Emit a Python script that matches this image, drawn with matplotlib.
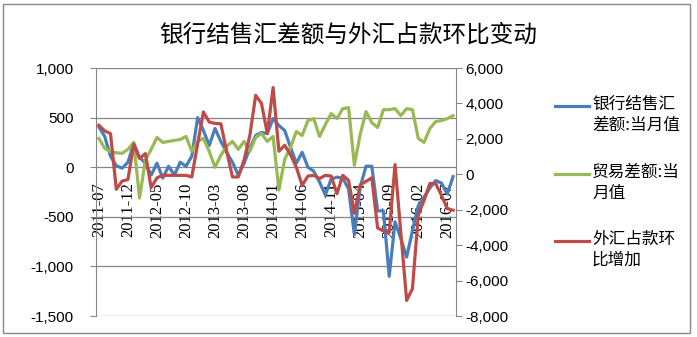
import matplotlib.pyplot as plt
from matplotlib.lines import Line2D
from matplotlib.patches import Rectangle
from matplotlib.ticker import FuncFormatter
import numpy as np
import pandas as pd

plt.rcParams['font.family'] = ['Noto Sans CJK SC', 'DejaVu Sans']
plt.rcParams['axes.unicode_minus'] = False

# monthly, 2011-07 .. 2016-08
months = pd.date_range('2011-07-01', periods=62, freq='MS').strftime('%Y-%m').tolist()

# 银行结售汇差额:当月值 (left axis)
fx_settlement = [405, 310, 110, 15, -10, 50, 240, 100, 40, -80,
                 40, -110, 10, -80, 50, 10, 110, 500, 370, 220,
                 390, 260, 150, 50, -80, 40, 190, 320, 350, 340,
                 490, 420, 370, 200, 40, 150, 0, -40, -150, -280,
                 -120, -100, -110, -220, -680, -200, 10, 10, -440, -440,
                 -1100, -550, -720, -906, -640, -390, -300, -210, -135, -160,
                 -270, -95]

# 贸易差额:当月值 (left axis)
trade_balance = [290, 190, 155, 145, 140, 180, 250, -310, 70, 180,
                 300, 250, 260, 270, 280, 310, 160, 260, 290, 160,
                 0, 120, 210, 260, 180, 260, 160, 300, 340, 260,
                 310, -230, 80, 200, 360, 320, 470, 490, 310, 430,
                 540, 490, 590, 600, 20, 330, 560, 450, 400, 580,
                 580, 590, 520, 590, 580, 290, 250, 390, 460, 470,
                 490, 520]

# 外汇占款环比增加 (right axis)
fx_reserve_change = [2770, 2450, 2300, -850, -380, -300, 1700, 890, 1170, -750,
                     -200, -60, -60, -60, -60, -60, -150, 1700, 3520, 2950,
                     2870, 2850, 1300, -150, -150, 800, 2200, 4460, 4000, 2300,
                     4900, 1300, 1640, 1100, 400, -620, -100, -60, -240, -60,
                     -100, -1090, -60, -340, -2200, -600, -400, -200, -3030, -3200,
                     -3280, 550, -3300, -7120, -6460, -2300, -1470, -520, -530, -1190,
                     -1940, -2030]

labels = ['银行结售汇\n差额:当月值', '贸易差额:当\n月值', '外汇占款环\n比增加']
colors = ['#4A7EBB', '#98B954', '#BE4B48']

W, H = 697, 337
fig = plt.figure(figsize=(W / 100, H / 100), dpi=100)
ax = fig.add_axes([96 / W, 1 - 316 / H, 360 / W, 248 / H])
ax2 = ax.twinx()

x = np.arange(len(months))
ax.plot(x, fx_settlement, color=colors[0], lw=2.3, solid_joinstyle='round')
ax.plot(x, trade_balance, color=colors[1], lw=2.3, solid_joinstyle='round')
ax2.plot(x, fx_reserve_change, color=colors[2], lw=2.3, solid_joinstyle='round')

ax.set_xlim(-0.5, len(months) - 0.5)
ax.set_ylim(-1500, 1000)
ax.set_yticks(range(-1500, 1001, 500))
ax2.set_ylim(-8000, 6000)
ax2.set_yticks(range(-8000, 6001, 2000))

fmt = FuncFormatter(lambda v, p: f"{v:,.0f}")
ax.yaxis.set_major_formatter(fmt)
ax2.yaxis.set_major_formatter(fmt)

ax.grid(axis='y', color='#868686', lw=0.9)
ax.set_axisbelow(True)

for a in (ax, ax2):
    a.spines['top'].set_visible(False)
    for s in ('left', 'right'):
        a.spines[s].set_color('#868686')
ax.spines['right'].set_visible(False)
ax2.spines['left'].set_visible(False)
ax2.spines['bottom'].set_visible(False)
ax.spines['bottom'].set_position(('data', 0))
ax.spines['bottom'].set_visible(False)

ax.set_xticks(x[::5])
ax.set_xticklabels(months[::5], rotation=90, fontfamily='Liberation Serif', fontsize=12)
ax.tick_params(axis='x', length=0, pad=11)
ax.tick_params(axis='y', length=4, color='#868686', pad=12, labelsize=11)
ax2.tick_params(axis='y', length=4, color='#868686', pad=3, labelsize=11)
for t in ax.get_yticklabels() + ax2.get_yticklabels():
    t.set_fontfamily('Liberation Sans')

fig.text(0.5, 1 - 35 / H, '银行结售汇差额与外汇占款环比变动', ha='center', va='center', fontsize=17)

# legend
for lab, c, y in zip(labels, colors, [106, 174, 241]):
    fig.add_artist(Line2D([555 / W, 589 / W], [1 - y / H, 1 - y / H], color=c, lw=2.3,
                          transform=fig.transFigure))
    fig.text(592 / W, 1 - (y - 10) / H, lab, ha='left', va='top', fontsize=12, linespacing=1.3)

fig.add_artist(Rectangle((3 / W, 4 / H), 687 / W, 329 / H, transform=fig.transFigure,
                         fill=False, edgecolor='#898989', lw=1))

fig.savefig('out.png', dpi=100)
